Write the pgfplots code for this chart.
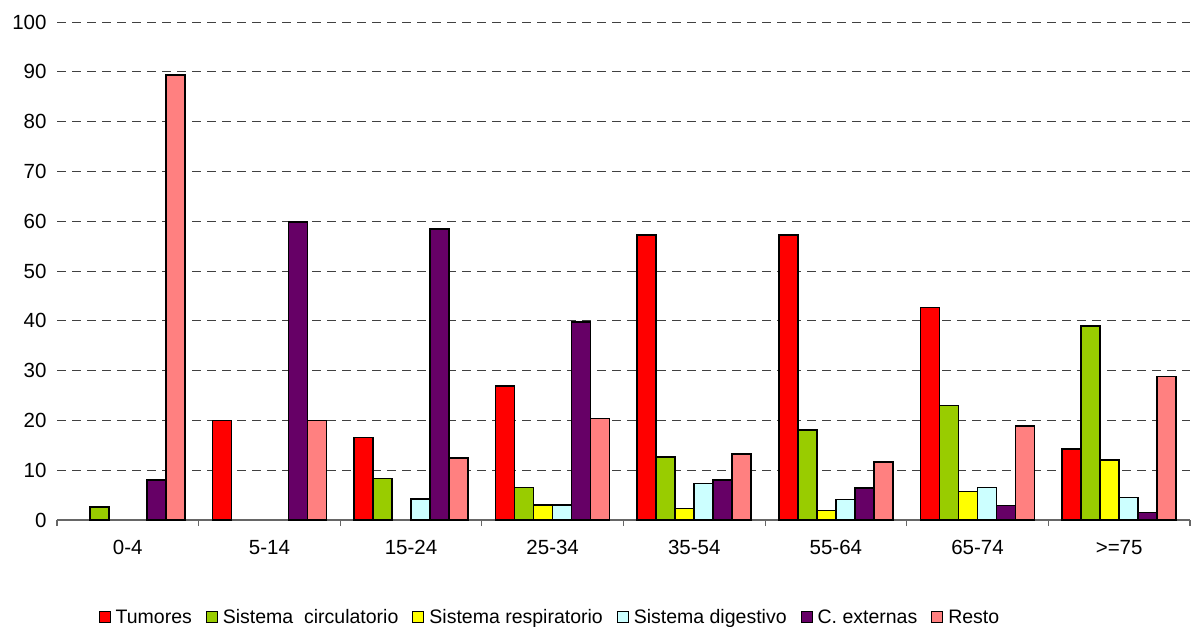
\documentclass[border=0pt]{standalone}
\usepackage{fontspec}
\setmainfont{Liberation Sans}
\usepackage{pgfplots}
\pgfplotsset{compat=1.18}

\definecolor{ctum}{HTML}{FF0000}
\definecolor{ccir}{HTML}{99CC00}
\definecolor{cres}{HTML}{FFFF00}
\definecolor{cdig}{HTML}{CCFFFF}
\definecolor{cext}{HTML}{660066}
\definecolor{cresto}{HTML}{FF8080}

\begin{document}
\begin{tikzpicture}
\useasboundingbox (-57bp,-107bp) rectangle (1134bp,520bp);
\begin{axis}[
    at={(0,0)}, anchor=south west,
    scale only axis,
    width=1133bp, height=498bp,
    ybar=0pt, bar width=19bp,
    xmin=-0.5, xmax=7.5,
    ymin=0, ymax=100,
    ytick={0,10,...,100},
    xtick={0,...,7},
    xticklabels={0-4,5-14,15-24,25-34,35-54,55-64,65-74,>=75},
    minor xtick={-0.5,0.5,...,7.5},
    axis x line*=bottom,
    axis y line*=left,
    y axis line style={draw=none},
    x axis line style={gray!80!black, line width=1.2bp},
    major tick length=0pt,
    minor tick length=6bp,
    tick align=outside,
    minor x tick style={gray!80!black, line width=1.2bp},
    ytick style={draw=none},
    ymajorgrids,
    grid style={black!75, line width=0.9bp, dash pattern=on 9bp off 6bp},
    /pgf/number format/assume math mode=true,
    tick label style={font=\fontsize{20.5bp}{24bp}\selectfont},
    yticklabel style={xshift=-7bp},
    xticklabel style={yshift=-17bp},
    every axis plot/.append style={draw=black, line width=1.6bp},
    legend columns=-1,
    legend style={draw=none, fill=none, at={(0.034,-0.195)}, anchor=west,
        font=\fontsize{19.5bp}{23bp}\selectfont,
        /tikz/every odd column/.append style={column sep=3bp},
        /tikz/every even column/.append style={column sep=12bp}},
    legend image code/.code={\draw[#1, line width=1bp] (0bp,-5.5bp) rectangle (11bp,5.5bp);},
]
\addplot[fill=ctum] coordinates {(1,20.0) (2,16.6) (3,26.9) (4,57.2) (5,57.2) (6,42.7) (7,14.3)};
\addplot[fill=ccir] coordinates {(0,2.6) (2,8.3) (3,6.5) (4,12.6) (5,18.1) (6,23.0) (7,38.9)};
\addplot[fill=cres] coordinates {(3,3.0) (4,2.3) (5,1.9) (6,5.7) (7,12.0)};
\addplot[fill=cdig] coordinates {(2,4.2) (3,3.0) (4,7.3) (5,4.1) (6,6.5) (7,4.5)};
\addplot[fill=cext] coordinates {(0,8.0) (1,59.8) (2,58.4) (3,39.8) (4,8.0) (5,6.4) (6,2.9) (7,1.5)};
\addplot[fill=cresto] coordinates {(0,89.3) (1,20.0) (2,12.5) (3,20.4) (4,13.3) (5,11.7) (6,18.9) (7,28.8)};
\legend{Tumores, Sistema\ \ circulatorio, Sistema respiratorio, Sistema digestivo, C. externas, Resto}
\end{axis}
\end{tikzpicture}
\end{document}
